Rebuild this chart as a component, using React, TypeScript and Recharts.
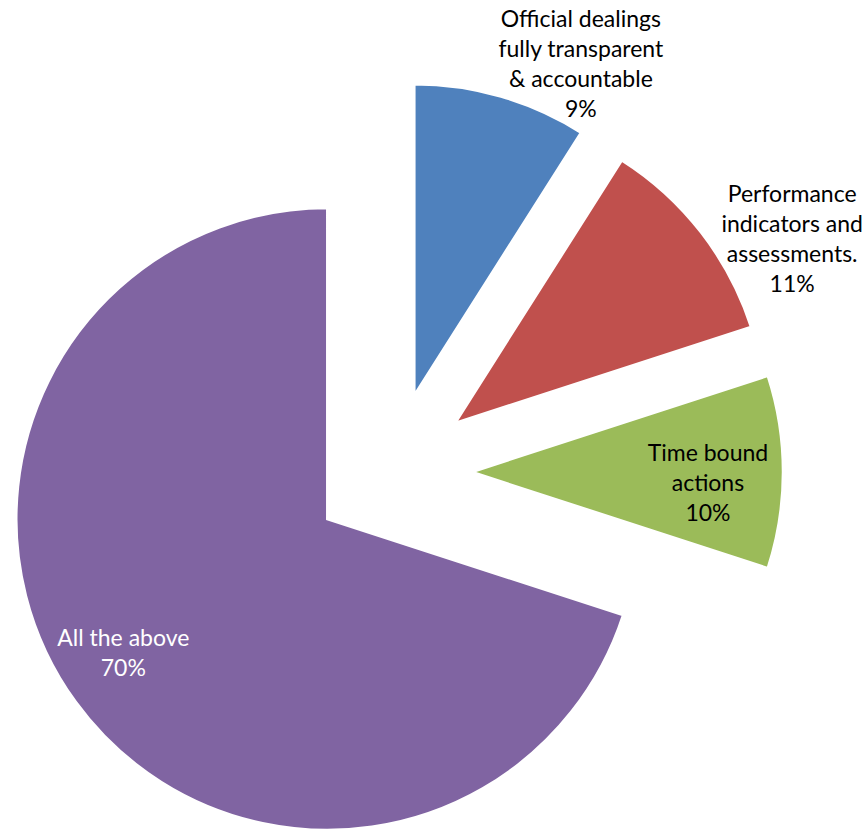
import React from 'react';
import { PieChart, Pie, Cell, Sector } from 'recharts';

const categories = [
  'Official dealings fully transparent & accountable',
  'Performance indicators and assessments.',
  'Time bound actions',
  'All the above',
];
const labelLines = [
  ['Official dealings', 'fully transparent', '& accountable'],
  ['Performance', 'indicators and', 'assessments.'],
  ['Time bound', 'actions'],
  ['All the above'],
];
const values = [9, 11, 10, 70];

const COLORS = ['#4F81BD', '#C0504D', '#9BBB59', '#8064A2'];
const TEXT_COLORS = ['#000', '#000', '#000', '#fff'];
// label anchor: radius factor along the slice mid-angle plus a nudge
const LABEL_LAYOUT = [
  { rf: 1.37, dx: 70, dy: 0 },
  { rf: 1.49, dx: 34, dy: 50 },
  { rf: 1.016, dx: 0, dy: 10 },
  { rf: 1.04, dx: -7, dy: -10 },
];

const RADIAN = Math.PI / 180;
const EXPLODE = 80;
const LINE_H = 30;

const data = categories.map((name, i) => ({ name, value: values[i] }));

const ExplodedSector = (props: any) => {
  const { cx, cy, midAngle } = props;
  const dx = EXPLODE * Math.cos(-midAngle * RADIAN);
  const dy = EXPLODE * Math.sin(-midAngle * RADIAN);
  return <Sector {...props} cx={cx + dx} cy={cy + dy} />;
};

const renderLabel = (props: any) => {
  const { cx, cy, midAngle, outerRadius, index, percent } = props;
  const lay = LABEL_LAYOUT[index];
  const r = outerRadius * lay.rf;
  const x = cx + r * Math.cos(-midAngle * RADIAN) + lay.dx;
  const y = cy + r * Math.sin(-midAngle * RADIAN) + lay.dy;
  const lines = [...labelLines[index], `${Math.round(percent * 100)}%`];
  const y0 = y - ((lines.length - 1) / 2) * LINE_H;
  return (
    <text
      x={x}
      y={y0}
      textAnchor="middle"
      dominantBaseline="central"
      fill={TEXT_COLORS[index]}
      fontSize={23}
      fontFamily="Lato, 'Open Sans', sans-serif"
    >
      {lines.map((l, i) => (
        <tspan key={i} x={x} y={y0 + i * LINE_H}>
          {l}
        </tspan>
      ))}
    </text>
  );
};

export default function App() {
  return (
    <div style={{ position: 'absolute', left: 0, top: 0, width: 866, height: 830, background: '#fff' }}>
      <PieChart width={866} height={830} margin={{ top: 0, right: 0, bottom: 0, left: 0 }}>
        <Pie
          data={data}
          dataKey="value"
          nameKey="name"
          cx={392}
          cy={472}
          outerRadius={311}
          startAngle={90}
          endAngle={-270}
          stroke="#fff"
          strokeWidth={2.5}
          shape={ExplodedSector}
          label={renderLabel}
          labelLine={false}
          isAnimationActive={false}
        >
          {data.map((entry, index) => (
            <Cell key={`cell-${index}`} fill={COLORS[index]} />
          ))}
        </Pie>
      </PieChart>
    </div>
  );
}
